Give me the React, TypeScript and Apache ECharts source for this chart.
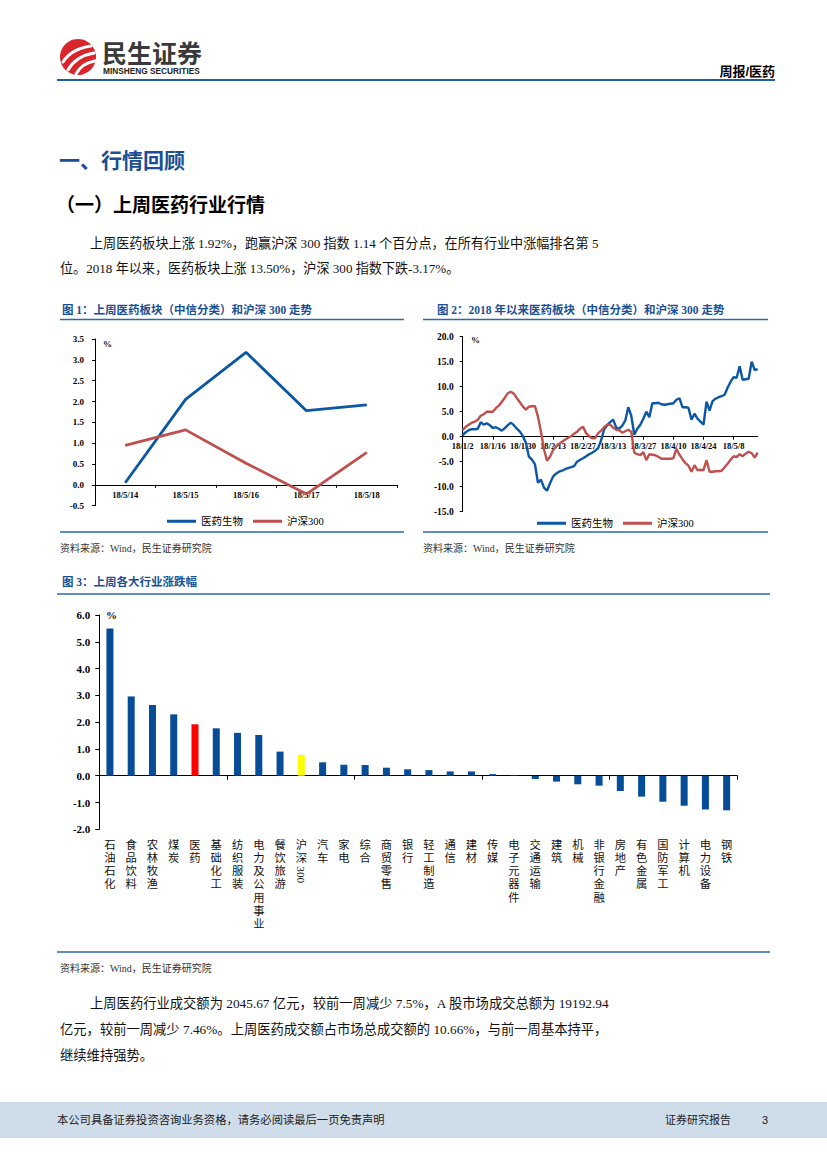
import React, { useEffect, useRef } from 'react';
import * as echarts from 'echarts';

// ---------- Data ----------
const weekDays = ['18/5/14', '18/5/15', '18/5/16', '18/5/17', '18/5/18'];
const pharmaWeek = [0.05, 2.05, 3.18, 1.78, 1.92];
const hs300Week = [0.95, 1.32, 0.52, -0.22, 0.78];

const janDays = [2, 3, 4, 5, 8, 9, 10, 11, 12, 15, 16, 17, 18, 19, 22, 23, 24, 25, 26, 29, 30, 31];
const febDays = [1, 2, 5, 6, 7, 8, 9, 12, 13, 14, 15, 16, 19, 20, 21, 22, 23, 26, 27, 28];
const marDays = [1, 2, 5, 6, 7, 8, 9, 12, 13, 14, 15, 16, 19, 20, 21, 22, 23, 26, 27, 28, 29, 30];
const aprDays = [2, 3, 4, 5, 6, 9, 10, 11, 12, 13, 16, 17, 18, 19, 20, 23, 24, 25, 26, 27, 30];
const mayDays = [1, 2, 3, 4, 7, 8, 9, 10, 11, 14, 15, 16, 17, 18];
const ytdDates = [
  ...janDays.map((d) => `18/1/${d}`),
  ...febDays.map((d) => `18/2/${d}`),
  ...marDays.map((d) => `18/3/${d}`),
  ...aprDays.map((d) => `18/4/${d}`),
  ...mayDays.map((d) => `18/5/${d}`),
];

const pharmaYtd = [
  0.3, 0.9, 1.3, 1.5, 1.5, 1.6, 2.9, 2.4, 2.7, 2.3,
  1.7, 1.9, 1.6, 1.2, 1.7, 2.3, 2.8, 2.3, 1.6, 1.0,
  0.1, -1.2, -4.0, -4.6, -5.5, -9.2, -8.6, -10.2, -10.8, -9.3,
  -8.0, -7.4, -7.0, -6.8, -6.5, -6.3, -6.1, -5.9, -5.0, -4.6,
  -4.3, -3.9, -3.5, -3.2, -2.8, -2.3, -0.7, 1.5, 2.3, 2.9,
  3.4, 1.8, 1.6, 2.2, 3.2, 5.9, 4.2, 0.4, 1.6, 2.4,
  3.6, 5.0, 3.9, 6.7, 6.7, 6.8, 6.5, 6.4, 6.5, 6.6,
  6.7, 7.4, 7.7, 5.9, 5.9, 5.8, 3.4, 4.6, 3.6, 3.0,
  2.4, 7.0, 5.2, 7.1, 7.6, 7.9, 8.1, 8.4, 9.8, 11.0,
  11.9, 11.8, 14.1, 11.4, 11.5, 11.6, 15.0, 13.3, 13.5,
];
const hs300Ytd = [
  1.3, 2.0, 2.4, 2.8, 3.0, 3.4, 4.2, 4.5, 5.0, 5.0,
  5.0, 5.7, 6.2, 7.0, 7.8, 8.7, 9.0, 8.6, 7.7, 6.9,
  6.0, 5.4, 6.0, 6.1, 6.1, 4.0, 1.0, -2.5, -4.8, -4.0,
  -2.7, -2.0, -1.5, -1.0, -0.6, -0.2, 0.1, 0.6, 1.0, 1.6,
  2.0, 0.7, 0.1, -0.3, -0.3, 0.7, 1.2, 1.9, 2.4, 2.4,
  1.8, 1.4, 1.3, 0.8, 1.1, 1.4, 1.0, -3.2, -3.5, -3.7,
  -3.1, -4.7, -3.5, -3.6, -3.7, -4.0, -4.4, -4.4, -4.4, -4.4,
  -4.3, -2.4, -3.6, -4.5, -5.3, -5.8, -7.0, -5.7, -6.7, -6.6,
  -6.7, -4.7, -7.0, -7.0, -6.9, -6.9, -6.8, -6.1, -5.4, -4.6,
  -3.9, -4.1, -3.5, -3.9, -3.4, -3.0, -3.3, -4.2, -3.17,
];

const industries = [
  '石油石化', '食品饮料', '农林牧渔', '煤炭', '医药', '基础化工', '纺织服装', '电力及公用事业',
  '餐饮旅游', '沪深300', '汽车', '家电', '综合', '商贸零售', '银行', '轻工制造', '通信', '建材',
  '传媒', '电子元器件', '交通运输', '建筑', '机械', '非银行金融', '房地产', '有色金属', '国防军工',
  '计算机', '电力设备', '钢铁',
];
const industryChange = [
  5.50, 2.96, 2.64, 2.29, 1.92, 1.77, 1.60, 1.52, 0.90, 0.78, 0.50, 0.41, 0.40, 0.30, 0.24,
  0.21, 0.16, 0.16, 0.06, 0.02, -0.12, -0.22, -0.32, -0.37, -0.57, -0.78, -0.97, -1.12, -1.26, -1.29,
];

// axis ranges
const y1Min = -0.5, y1Max = 3.5, y1Step = 0.5;
const y2Min = -15, y2Max = 20, y2Step = 5;
const y3Min = -2, y3Max = 6, y3Step = 1;

// ---------- Styles / layout ----------
const SERIF = "'Liberation Serif', 'Times New Roman', 'Noto Sans CJK SC', serif";
const SANS = "'Liberation Sans', Arial, 'Noto Sans CJK SC', sans-serif";
const BLUE = '#0b57a3';
const RED = '#c0504d';
const BAR = '#064c97';
const TITLE_BLUE = '#1b4f93';
const RULE_BLUE = '#2d68ad';

const G1 = { left: 95, top: 339, width: 302, height: 166.7 };
const G2 = { left: 462.7, top: 336.7, width: 295, height: 175 };
const G3 = { left: 99.3, top: 615, width: 638, height: 214.3 };
const CAT_FONT = 11.3;
const CAT_LINE = 13.2;
// distance from grid bottom up to the zero line
const zeroOffset = (g: any, min: number, max: number) => (g.height * (0 - min)) / (max - min);

function txt(id: string, text: string, x: number, y: number, o: any = {}) {
  return {
    id,
    type: 'text',
    x,
    y,
    silent: true,
    style: {
      text,
      fill: o.fill || '#111',
      fontSize: o.size || 13,
      fontWeight: o.weight || 'normal',
      fontFamily: o.family || SERIF,
      align: o.align || 'left',
      verticalAlign: 'middle',
    },
  };
}
function rule(id: string, x1: number, x2: number, y: number, color = RULE_BLUE, w = 1.5) {
  return { id, type: 'line', silent: true, shape: { x1, y1: y, x2, y2: y }, style: { stroke: color, lineWidth: w } };
}

const axisFont = { fontFamily: SERIF, fontWeight: 'bold' as const, color: '#000' };

export default function App() {
  const ref = useRef<HTMLDivElement>(null);
  useEffect(() => {
    const chart = echarts.init(ref.current!, null, { renderer: 'svg', width: 827, height: 1169 });
    const blackLine = { show: true, lineStyle: { color: '#000', width: 1 } };

    const graphics: any[] = [
      // header
      { id: 'logoC', type: 'circle', silent: true, shape: { cx: 78, cy: 57, r: 18 }, style: { fill: '#d9262c' } },
      { id: 'logoS1', type: 'bezierCurve', silent: true, shape: { x1: 63, y1: 62, cpx1: 71, cpy1: 49, x2: 91, y2: 46 }, style: { stroke: '#fff', lineWidth: 3, fill: 'none', lineCap: 'round' } },
      { id: 'logoS2', type: 'bezierCurve', silent: true, shape: { x1: 68, y1: 70, cpx1: 76, cpy1: 56, x2: 94, y2: 53 }, style: { stroke: '#fff', lineWidth: 3, fill: 'none', lineCap: 'round' } },
      { id: 'logoS3', type: 'bezierCurve', silent: true, shape: { x1: 76, y1: 74, cpx1: 82, cpy1: 63, x2: 95, y2: 61 }, style: { stroke: '#fff', lineWidth: 3, fill: 'none', lineCap: 'round' } },
      txt('brand', '民生证券', 102, 54, { size: 25, weight: 'bold', family: SANS, fill: '#3a3a3a' }),
      txt('brandEn', 'MINSHENG SECURITIES', 103, 71, { size: 8.3, weight: 'bold', family: SANS, fill: '#222' }),
      txt('hdrR', '周报/医药', 775, 71, { size: 13, weight: 'bold', family: SANS, align: 'right', fill: '#000' }),
      rule('hdrLine', 57, 775, 80, '#1f5ea6', 2),
      // section titles
      txt('sec1', '一、行情回顾', 59, 160, { size: 21, weight: 'bold', family: SANS, fill: TITLE_BLUE }),
      txt('sec2', '（一）上周医药行业行情', 56, 205, { size: 19, weight: 'bold', family: SANS, fill: '#000' }),
      txt('p1a', '上周医药板块上涨 1.92%，跑赢沪深 300 指数 1.14 个百分点，在所有行业中涨幅排名第 5', 90, 243, { size: 13.1 }),
      txt('p1b', '位。2018 年以来，医药板块上涨 13.50%，沪深 300 指数下跌-3.17%。', 60, 268, { size: 13.1 }),
      // figure titles
      txt('f1t', '图 1：上周医药板块（中信分类）和沪深 300 走势', 62, 310, { size: 11.5, weight: 'bold', fill: TITLE_BLUE }),
      txt('f2t', '图 2：2018 年以来医药板块（中信分类）和沪深 300 走势', 437, 310, { size: 11.5, weight: 'bold', fill: TITLE_BLUE }),
      rule('f1top', 60, 404, 319.5),
      rule('f2top', 423, 768, 319.5),
      rule('f1bot', 60, 404, 532),
      rule('f2bot', 423, 768, 532),
      txt('src1', '资料来源：Wind，民生证券研究院', 60, 548, { size: 10, fill: '#333' }),
      txt('src2', '资料来源：Wind，民生证券研究院', 423, 548, { size: 10, fill: '#333' }),
      txt('pct1', '%', 103, 344, { size: 9, weight: 'bold' }),
      txt('pct2', '%', 471, 340, { size: 9, weight: 'bold' }),
      txt('f3t', '图 3：上周各大行业涨跌幅', 62, 582, { size: 11.5, weight: 'bold', fill: TITLE_BLUE }),
      rule('f3top', 57, 770, 594),
      txt('pct3', '%', 106, 615, { size: 11, weight: 'bold' }),
      rule('f3bot', 57, 770, 952),
      txt('src3', '资料来源：Wind，民生证券研究院', 60, 968, { size: 10, fill: '#333' }),
      txt('p2a', '上周医药行业成交额为 2045.67 亿元，较前一周减少 7.5%，A 股市场成交总额为 19192.94', 90, 1003, { size: 13.3 }),
      txt('p2b', '亿元，较前一周减少 7.46%。上周医药成交额占市场总成交额的 10.66%，与前一周基本持平，', 60, 1029, { size: 13.3 }),
      txt('p2c', '继续维持强势。', 60, 1055, { size: 13.3 }),
      // footer
      { id: 'footBg', type: 'rect', silent: true, shape: { x: 0, y: 1102, width: 827, height: 36 }, style: { fill: '#cfdcea' } },
      txt('footL', '本公司具备证券投资咨询业务资格，请务必阅读最后一页免责声明', 57, 1120, { size: 11.3, family: SANS, fill: '#222' }),
      txt('footR', '证券研究报告', 665, 1120, { size: 11, family: SANS, fill: '#222' }),
      txt('footN', '3', 762, 1120, { size: 11, family: SANS, fill: '#222' }),
    ];

    const legendCommon = {
      data: ['医药生物', '沪深300'],
      icon: 'rect',
      itemWidth: 29,
      itemHeight: 3,
      itemGap: 10,
      textStyle: { fontSize: 10.5, fontFamily: SERIF, color: '#000' },
      selectedMode: false,
    };

    const labelAxis = (gridIndex: number, data: string[], boundaryGap: boolean, offset: number, label: any) => ({
      gridIndex, type: 'category', data, boundaryGap, position: 'bottom', offset,
      axisLine: { show: false, onZero: false },
      axisTick: { show: false },
      axisLabel: label,
    });
    const lineAxis = (gridIndex: number, data: string[], boundaryGap: boolean, tick: any) => ({
      gridIndex, type: 'category', data, boundaryGap, position: 'bottom',
      axisLine: { ...blackLine, onZero: true },
      axisTick: { show: true, lineStyle: { color: '#000' }, ...tick },
      axisLabel: { show: false },
    });
    const valueAxis = (gridIndex: number, min: number, max: number, interval: number, size: number, margin: number, tickLen: number) => ({
      gridIndex, type: 'value', min, max, interval,
      axisLine: blackLine, axisTick: { show: true, length: tickLen, lineStyle: { color: '#000' } },
      splitLine: { show: false },
      axisLabel: { ...axisFont, fontSize: size, margin, formatter: (v: number) => v.toFixed(1) },
    });

    const option: any = {
      animation: false,
      backgroundColor: '#fff',
      graphic: { elements: graphics },
      legend: [
        { ...legendCommon, left: 162, top: 511 },
        { ...legendCommon, left: 532, top: 513 },
      ],
      grid: [G1, G2, G3],
      xAxis: [
        labelAxis(0, weekDays, true, -zeroOffset(G1, y1Min, y1Max), { ...axisFont, fontSize: 8.5, margin: 6 }),
        lineAxis(0, weekDays, true, { length: 3 }),
        labelAxis(1, ytdDates, false, -zeroOffset(G2, y2Min, y2Max), { ...axisFont, fontSize: 8.5, margin: 5, interval: 9 }),
        lineAxis(1, ytdDates, false, { length: 3, interval: 9 }),
        labelAxis(2, industries, true, 0, {
          interval: 0, margin: 9, fontSize: CAT_FONT, lineHeight: CAT_LINE, color: '#111',
          fontFamily: SERIF, verticalAlign: 'top',
          formatter: (v: string) => (v === '沪深300' ? '沪\n深' : v.split('').join('\n')),
        }),
        lineAxis(2, industries, true, { length: 4 }),
      ],
      yAxis: [
        valueAxis(0, y1Min, y1Max, y1Step, 9, 11, 3),
        valueAxis(1, y2Min, y2Max, y2Step, 9.5, 9, 3),
        valueAxis(2, y3Min, y3Max, y3Step, 11, 9, 4),
      ],
      series: [
        { name: '医药生物', type: 'line', xAxisIndex: 0, yAxisIndex: 0, data: pharmaWeek, symbol: 'none', lineStyle: { color: BLUE, width: 2.8 }, itemStyle: { color: BLUE } },
        { name: '沪深300', type: 'line', xAxisIndex: 0, yAxisIndex: 0, data: hs300Week, symbol: 'none', lineStyle: { color: RED, width: 2.8 }, itemStyle: { color: RED } },
        { name: '医药生物', type: 'line', xAxisIndex: 2, yAxisIndex: 1, data: pharmaYtd, symbol: 'none', lineStyle: { color: BLUE, width: 2.4 }, itemStyle: { color: BLUE } },
        { name: '沪深300', type: 'line', xAxisIndex: 2, yAxisIndex: 1, data: hs300Ytd, symbol: 'none', lineStyle: { color: RED, width: 2.4 }, itemStyle: { color: RED } },
        {
          name: '涨跌幅', type: 'bar', xAxisIndex: 4, yAxisIndex: 2, barWidth: 7,
          data: industryChange.map((v, i) => ({
            value: v,
            itemStyle: { color: industries[i] === '医药' ? '#ff0000' : industries[i] === '沪深300' ? '#ffff00' : BAR },
          })),
        },
      ],
    };
    chart.setOption(option);

    const px = chart.convertToPixel({ xAxisIndex: 4 }, '沪深300') as number;
    const bottom = chart.convertToPixel({ yAxisIndex: 2 }, y3Min) as number;
    chart.setOption({
      graphic: {
        elements: [
          {
            id: 'hs300num', type: 'text', silent: true, x: px, y: bottom + 9 + 2 * CAT_LINE + 10,
            rotation: -Math.PI / 2,
            style: { text: '300', fontSize: CAT_FONT, fontFamily: SERIF, fill: '#111', align: 'center', verticalAlign: 'middle' },
          },
        ],
      },
    });
    return () => chart.dispose();
  }, []);
  return (
    <div
      ref={ref}
      style={{ position: 'absolute', left: 0, top: 0, width: 827, height: 1169, background: '#fff' }}
    />
  );
}
